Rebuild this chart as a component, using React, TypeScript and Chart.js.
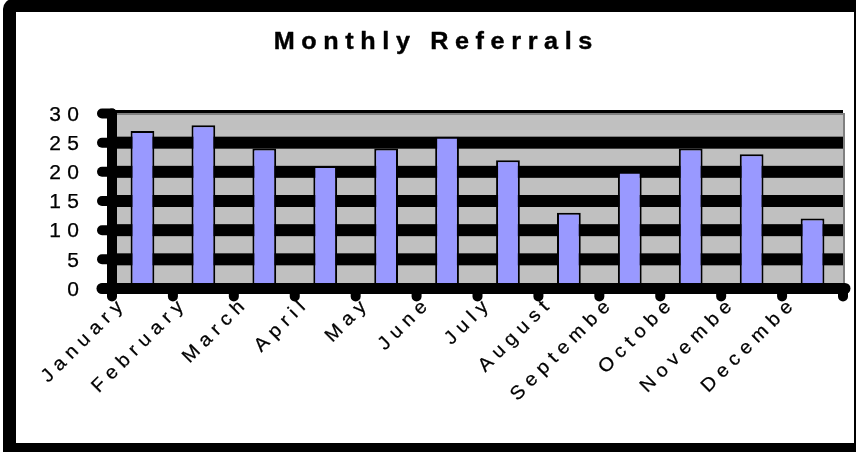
import React, { useEffect, useRef } from "react";
import { Chart, registerables } from "chart.js";

Chart.register(...registerables);

// ---- data ----
const TITLE = "Monthly Referrals";
const MONTHS = [
  "January",
  "February",
  "March",
  "April",
  "May",
  "June",
  "July",
  "August",
  "Septembe",
  "Octobe",
  "Novembe",
  "Decembe",
];
const REFERRALS = [27, 28, 24, 21, 24, 26, 22, 13, 20, 24, 23, 12];
const Y_TICKS = [0, 5, 10, 15, 20, 25, 30];
const Y_MIN = 0;
const Y_MAX = 30;

const FONT = '"Liberation Sans", Arial, Helvetica, sans-serif';

function spacedText(
  ctx: CanvasRenderingContext2D,
  text: string,
  font: string,
  spacing: number,
  sx: number,
  x: number,
  y: number,
  align: "left" | "right" | "center",
  rot = 0,
  weight = 0
) {
  ctx.save();
  ctx.font = font;
  (ctx as any).letterSpacing = spacing + "px";
  ctx.textAlign = "left";
  ctx.textBaseline = "alphabetic";
  const w = ctx.measureText(text).width - spacing;
  ctx.translate(x, y);
  if (rot) ctx.rotate(rot);
  ctx.scale(sx, 1);
  let start = 0;
  if (align === "right") start = -w;
  else if (align === "center") start = -w / 2;
  ctx.fillStyle = "#000";
  ctx.fillText(text, start, 0);
  if (weight > 0) {
    ctx.strokeStyle = "#000";
    ctx.lineWidth = weight;
    ctx.lineJoin = "round";
    ctx.strokeText(text, start, 0);
  }
  ctx.restore();
}

const decor = {
  id: "excelDecor",
  beforeDraw(chart: any) {
    const ctx: CanvasRenderingContext2D = chart.ctx;
    const ca = chart.chartArea;
    const ys = chart.scales.y;
    const W = chart.width;
    const H = chart.height;
    ctx.save();
    ctx.fillStyle = "#ffffff";
    ctx.fillRect(0, 0, W, H);
    // outer frame
    ctx.fillStyle = "#000000";
    ctx.beginPath();
    (ctx as any).roundRect(3, -1, W + 40, H + 40, 10);
    ctx.fill();
    ctx.fillStyle = "#ffffff";
    ctx.fillRect(16, 12, 838, 431);

    const top = ys.getPixelForValue(Y_MAX);
    const bottom = ys.getPixelForValue(Y_MIN);
    const pw = ca.right - ca.left;
    // plot background
    ctx.fillStyle = "#C0C0C0";
    ctx.fillRect(ca.left, top + 1.5, pw, bottom - top - 1.5);
    // gridline bands
    ctx.fillStyle = "#000000";
    for (const v of Y_TICKS) {
      if (v <= Y_MIN || v >= Y_MAX) continue;
      const py = ys.getPixelForValue(v);
      ctx.fillRect(ca.left, py - 6, pw, 12);
    }
    // top line + gray border
    ctx.fillRect(ca.left, top - 3.5, pw, 3);
    ctx.fillStyle = "#808080";
    ctx.fillRect(ca.left, top - 0.5, pw + 2, 2);
    ctx.fillRect(ca.right, top - 0.5, 2, bottom - top);
    ctx.restore();
  },
  afterDatasetsDraw(chart: any) {
    const ctx: CanvasRenderingContext2D = chart.ctx;
    const ca = chart.chartArea;
    const ys = chart.scales.y;
    const xs = chart.scales.x;
    const top = ys.getPixelForValue(Y_MAX);
    const bottom = ys.getPixelForValue(Y_MIN);
    ctx.save();
    ctx.strokeStyle = "#000000";
    ctx.lineCap = "round";
    // y axis
    ctx.lineWidth = 10;
    ctx.beginPath();
    ctx.moveTo(ca.left, top);
    ctx.lineTo(ca.left, bottom);
    ctx.stroke();
    for (const v of Y_TICKS) {
      const py = ys.getPixelForValue(v);
      ctx.beginPath();
      ctx.moveTo(ca.left - 10, py);
      ctx.lineTo(ca.left, py);
      ctx.stroke();
    }
    // x axis
    ctx.lineWidth = 11;
    ctx.beginPath();
    ctx.moveTo(ca.left - 10, bottom);
    ctx.lineTo(ca.right + 2, bottom);
    ctx.stroke();
    ctx.lineWidth = 10;
    for (let i = 0; i <= MONTHS.length; i++) {
      const bx = xs.getPixelForValue(i - 0.5);
      ctx.beginPath();
      ctx.moveTo(bx, bottom);
      ctx.lineTo(bx, bottom + 8);
      ctx.stroke();
    }
    ctx.restore();

    // title
    spacedText(ctx, TITLE, "bold 24px " + FONT, 6.3, 1.05, 433, 49, "center", 0, 0.4);
    // y labels
    for (const v of Y_TICKS) {
      const py = ys.getPixelForValue(v);
      spacedText(ctx, String(v), "20px " + FONT, 6, 1.05, 79, py + 7.2, "right", 0, 0.25);
    }
    // x labels
    MONTHS.forEach((m, i) => {
      const cx = xs.getPixelForValue(i);
      spacedText(ctx, m, "19px " + FONT, 5.6, 1.05, cx - 19, 308, "right", -Math.PI / 4, 0.25);
    });
  },
};

export default function App() {
  const ref = useRef<HTMLCanvasElement | null>(null);
  useEffect(() => {
    if (!ref.current) return;
    const chart = new Chart(ref.current, {
      type: "bar",
      data: {
        labels: MONTHS,
        datasets: [
          {
            label: TITLE,
            data: REFERRALS,
            backgroundColor: "#9999FF",
            borderColor: "#000000",
            borderWidth: 2,
            categoryPercentage: 1,
            barPercentage: 0.39,
          },
        ],
      },
      options: {
        responsive: false,
        animation: false,
        layout: { padding: { left: 112, right: 13, top: 113.5, bottom: 163.5 } },
        plugins: {
          legend: { display: false },
          title: { display: false },
          tooltip: { enabled: false },
        },
        scales: {
          x: { display: false, offset: true },
          y: { display: false, min: Y_MIN, max: Y_MAX },
        },
      },
      plugins: [decor],
    });
    return () => chart.destroy();
  }, []);
  return (
    <div style={{ position: "fixed", left: 0, top: 0, width: 856, height: 452 }}>
      <canvas ref={ref} width={856} height={452} style={{ display: "block" }} />
    </div>
  );
}
